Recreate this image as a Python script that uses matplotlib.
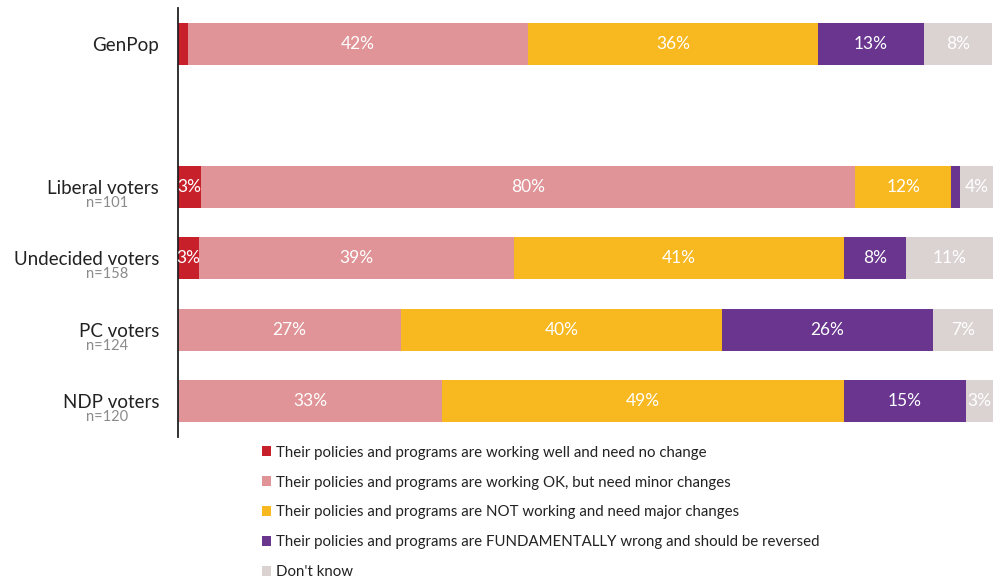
import numpy as np
import matplotlib.pyplot as plt

plt.rcParams['font.family'] = ['Lato', 'DejaVu Sans']

groups = ['GenPop', 'Liberal voters', 'Undecided voters', 'PC voters', 'NDP voters']
sample_n = ['', 'n=101', 'n=158', 'n=124', 'n=120']
ypos = [0, 2, 3, 4, 5]  # gap under GenPop

answers = ['Their policies and programs are working well and need no change',
           'Their policies and programs are working OK, but need minor changes',
           'Their policies and programs are NOT working and need major changes',
           'Their policies and programs are FUNDAMENTALLY wrong and should be reversed',
           "Don't know"]

# share of each answer per group
well    = [1.2, 2.9, 2.6, 0.0, 0.0]
minor   = [41.8, 80.2, 38.6, 27.4, 32.4]
major   = [35.5, 11.8, 40.5, 39.4, 49.3]
wrong   = [13.0, 1.0, 7.6, 25.8, 15.0]
dontknow = [8.4, 4.1, 10.8, 7.4, 3.3]
# printed labels ('' = not printed)
lbl_well  = ['', '3%', '3%', '', '']
lbl_minor = ['42%', '80%', '39%', '27%', '33%']
lbl_major = ['36%', '12%', '41%', '40%', '49%']
lbl_wrong = ['13%', '', '8%', '26%', '15%']
lbl_dk    = ['8%', '4%', '11%', '7%', '3%']

colors = ['#C8202B', '#E09497', '#F8B81F', '#69358F', '#DBD2D2']

fig = plt.figure(figsize=(9.99, 5.78), dpi=100)
ax = fig.add_axes([0.178, 0.244, 0.816, 0.742])

series = [well, minor, major, wrong, dontknow]
labels = [lbl_well, lbl_minor, lbl_major, lbl_wrong, lbl_dk]
left = np.zeros(len(groups))
handles = []
for vals, lbls, col, name in zip(series, labels, colors, answers):
    vals = np.array(vals)
    b = ax.barh(ypos, vals, left=left, height=0.59, color=col, label=name)
    handles.append(b)
    for y, l, v, t in zip(ypos, left, vals, lbls):
        if t:
            ax.text(l + v / 2, y, t, ha='center', va='center', color='white', fontsize=12.5)
    left = left + vals

ax.set_xlim(0, 100)
ax.set_ylim(5.5, -0.5)
ax.set_yticks([])
ax.set_xticks([])
for s in ['top', 'right', 'bottom']:
    ax.spines[s].set_visible(False)
ax.spines['left'].set_linewidth(1.3)
ax.spines['left'].set_color('#222222')

# group names and sample sizes
for y, g, n in zip(ypos, groups, sample_n):
    ax.annotate(g, xy=(0, y), xycoords=('axes fraction', 'data'), xytext=(-13.5, -1),
                textcoords='offset points', ha='right', va='center', fontsize=13.5, color='#222222')
    if n:
        ax.annotate(n, xy=(0, y), xycoords=('axes fraction', 'data'), xytext=(-36, -11.5),
                    textcoords='offset points', ha='right', va='center', fontsize=10.5, color='#8a8a8a')

fig.legend(handles=handles, labels=answers, loc='upper left', bbox_to_anchor=(0.262, 0.229),
           frameon=False, fontsize=10.8, handlelength=0.65, handleheight=0.65, handletextpad=0.3,
           labelspacing=1.06, borderpad=0, borderaxespad=0, labelcolor='#222222')

plt.savefig('out.png', dpi=100)
